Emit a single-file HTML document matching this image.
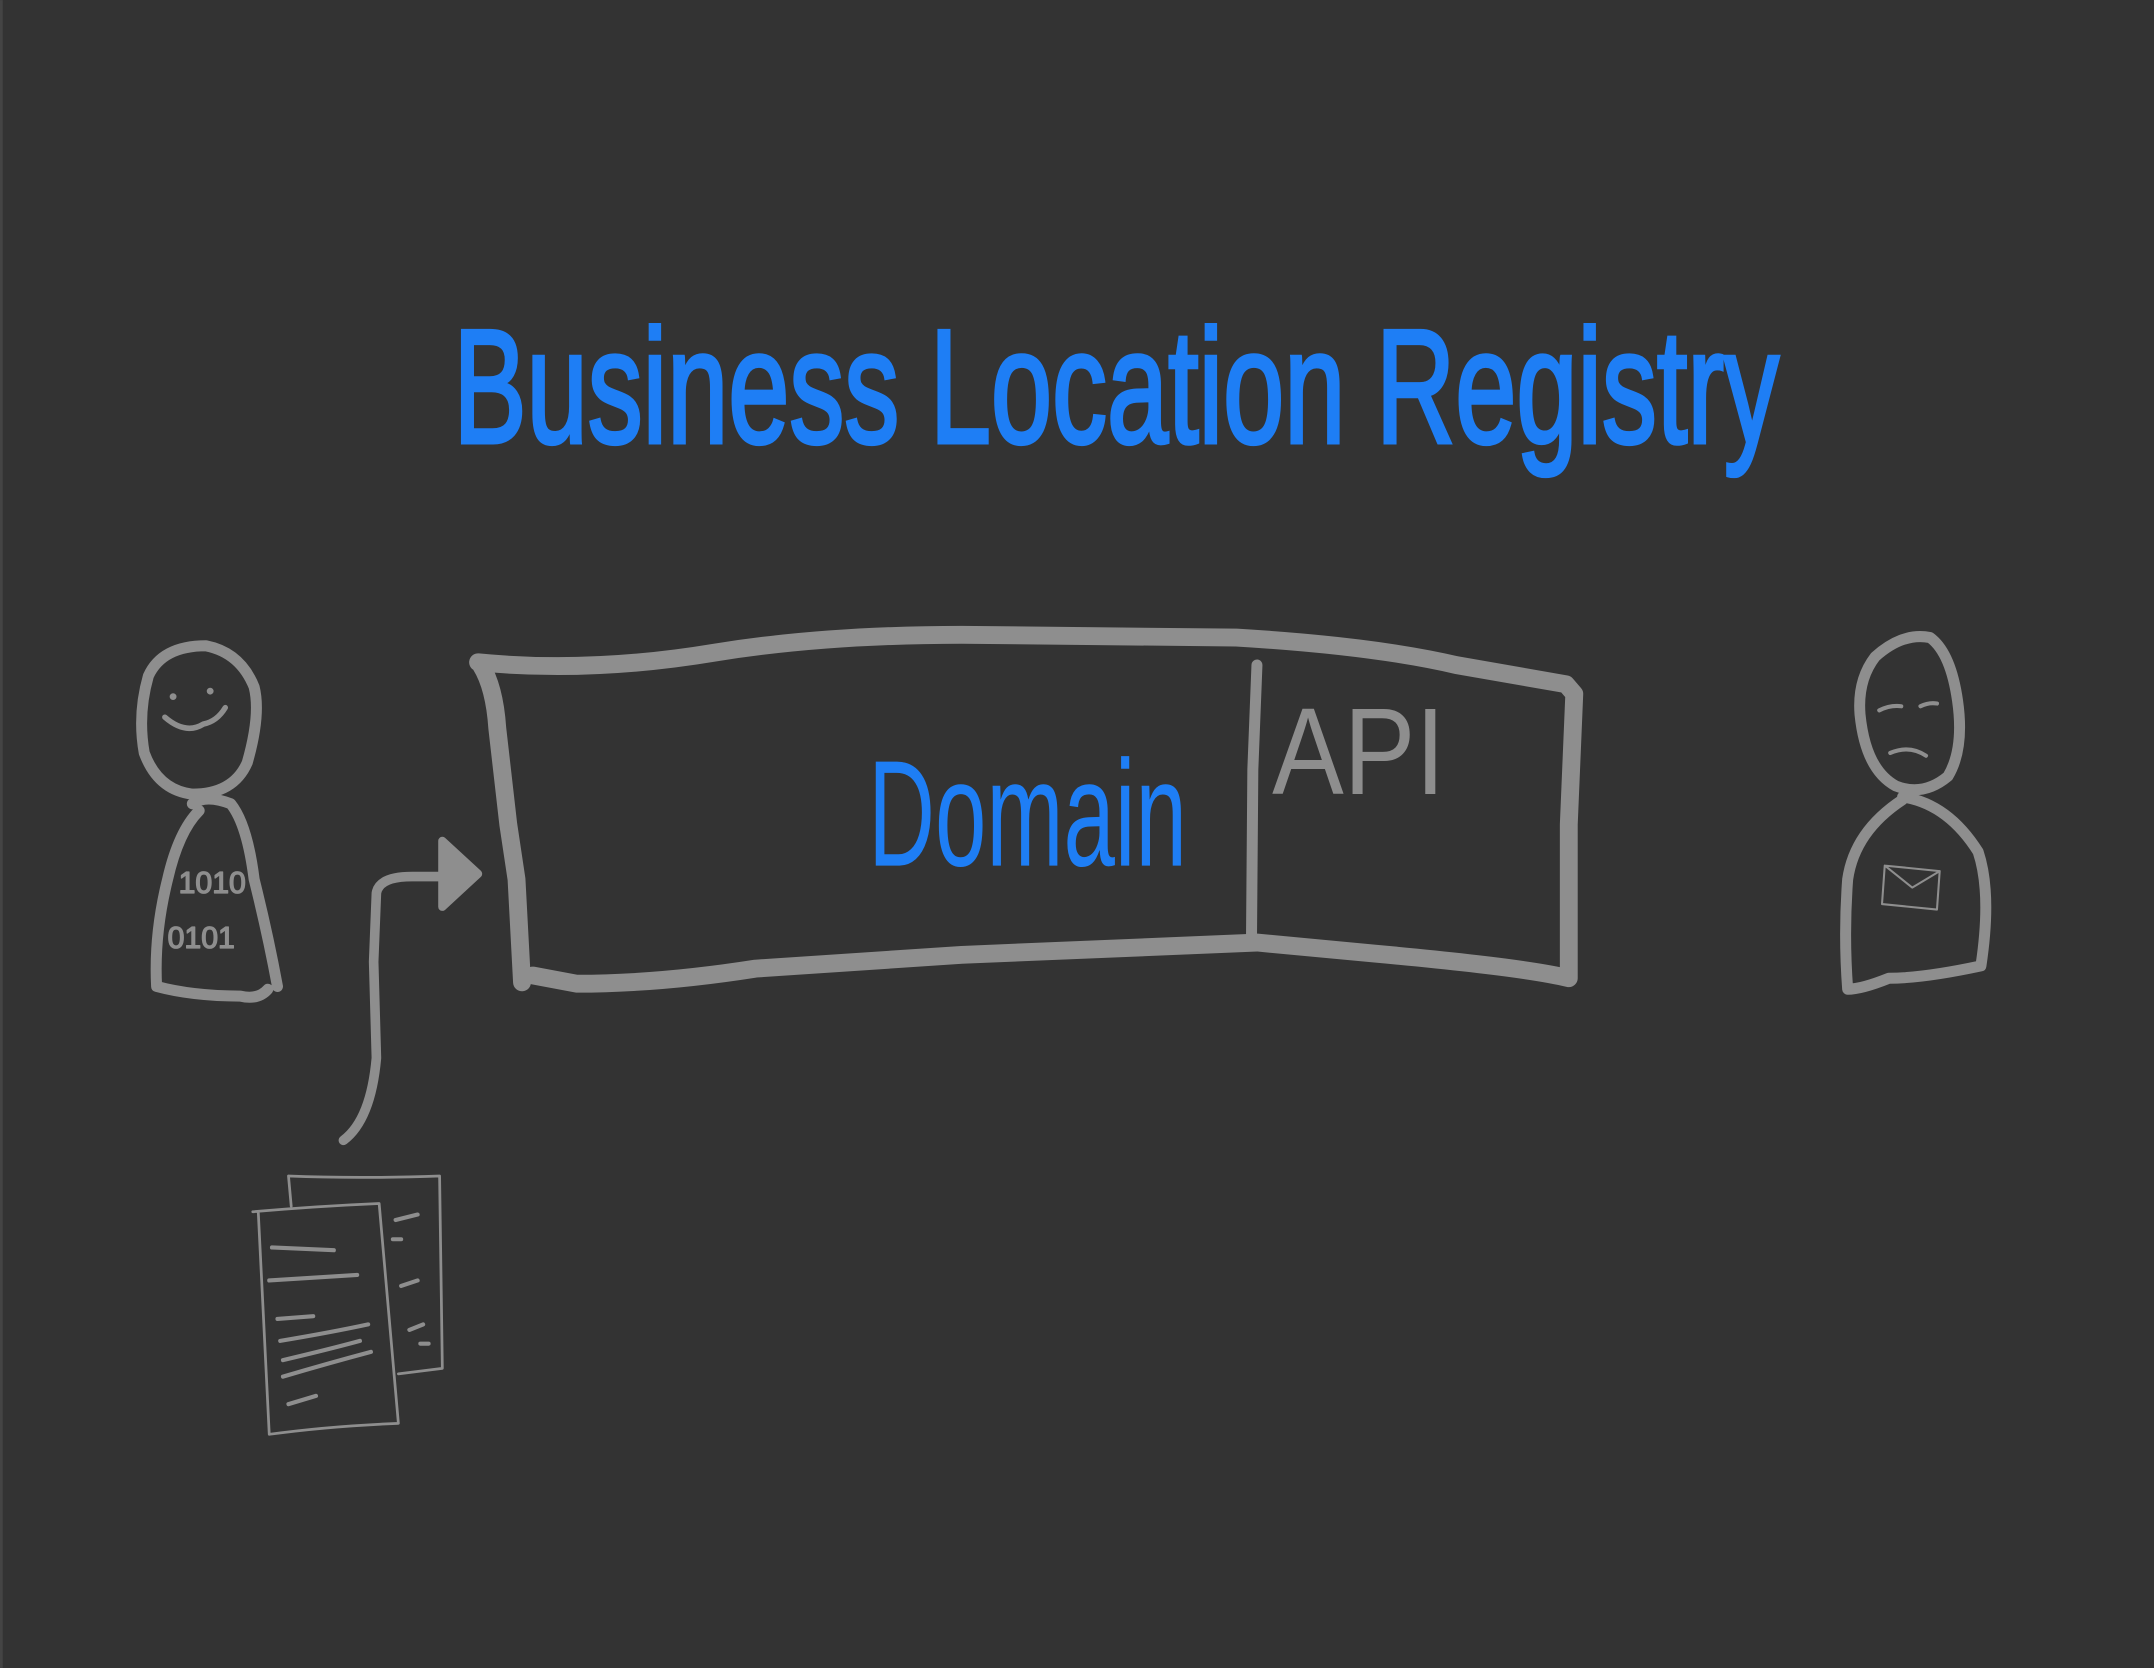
<!DOCTYPE html>
<html><head><meta charset="utf-8"><style>
html,body{margin:0;padding:0;background:#333;}
svg{display:block;}
</style></head><body>
<svg width="2154" height="1668" viewBox="0 0 1568 1214" xmlns="http://www.w3.org/2000/svg">
<rect width="1568" height="1214" fill="#333333"/>
<line x1="1" y1="0" x2="1" y2="1214" stroke="#444" stroke-width="2"/>
<!-- Title -->
<text x="330" y="322" font-family="Liberation Sans, sans-serif" font-size="118" fill="#1e7ef5" stroke="#1e7ef5" stroke-width="3" textLength="965" lengthAdjust="spacingAndGlyphs">Business Location Registry</text>
<!-- Main box -->
<g fill="none" stroke="#8e8e8e" stroke-linecap="round" stroke-linejoin="round">
<path d="M350 484 Q360 500 362 530 L370 600 L376 640 L380 715 M348 482 Q430 490 520 475 Q600 462 700 462 L900 464 Q1000 470 1060 484 L1140 498 L1146 505 L1142 600 L1142 712 Q1110 704 1000 694 L915 686 Q820 690 700 695 L550 705 Q480 716 420 716 L388 710" stroke-width="13"/>
<path d="M915 484 L912 560 L911 686" stroke-width="8"/>
<!-- arrow -->
<path d="M250 830 Q270 815 274 770 L272 700 L274 650 Q276 638 300 638 L322 638" stroke-width="7"/>
<path d="M322 612 L348 636 L322 660 Z" fill="#8e8e8e" stroke-width="6"/>
<!-- left person -->
<path d="M108 492 Q118 470 150 470 Q175 475 185 500 Q190 520 180 555 Q170 578 140 578 Q115 575 105 548 Q100 520 108 492 Z" stroke-width="8"/>
<path d="M120 522 Q135 535 148 527 Q158 525 164 515" stroke-width="4"/>
<circle cx="126" cy="507" r="1.5" fill="#8e8e8e" stroke-width="2"/>
<circle cx="153" cy="503" r="1.5" fill="#8e8e8e" stroke-width="2"/>
<path d="M140 585 Q150 578 168 585 Q180 600 185 640 Q195 680 202 718 M145 590 Q130 605 122 640 Q112 680 114 718 Q140 725 175 725 Q188 728 195 720" stroke-width="8"/>
<text x="130" y="650" font-family="Liberation Sans, sans-serif" font-size="22" fill="#8e8e8e">1010</text>
<text x="122" y="690" font-family="Liberation Sans, sans-serif" font-size="22" fill="#8e8e8e">0101</text>
<!-- right person -->
<path d="M1365 478 Q1385 460 1405 464 Q1420 475 1425 510 Q1430 545 1418 565 Q1400 580 1380 572 Q1358 560 1354 520 Q1352 495 1365 478 Z" stroke-width="8"/>
<path d="M1368 517 Q1376 513 1384 514 M1398 514 Q1404 511 1410 512 M1376 548 Q1390 542 1402 550" stroke-width="3"/>
<path d="M1385 580 Q1418 585 1440 620 Q1450 650 1442 703 Q1400 712 1375 712 Q1355 720 1345 720 Q1342 680 1345 640 Q1350 605 1385 582" stroke-width="8"/>
<path d="M1372 630 L1412 634 L1410 662 L1370 658 Z M1372 630 L1392 646 L1412 634" stroke-width="1.5"/>
<!-- documents -->
<path d="M210 856 L212 878 M210 856 Q260 858 320 856 L322 996 L290 1000" stroke-width="2"/>
<path d="M184 882 Q230 878 276 876 L290 1036 Q240 1038 196 1044 L188 882" stroke-width="2"/>
<path d="M198 908 L243 910 M196 932 Q230 930 260 928 M202 960 L228 958 M204 976 Q240 970 268 964 M206 990 Q240 982 262 976 M206 1002 Q240 992 270 984 M210 1022 L230 1016 M288 888 L304 884 M286 902 L292 902 M292 936 L304 932 M298 968 L308 964 M306 978 L312 978" stroke-width="3"/>
</g>
<text x="632" y="630" font-family="Liberation Sans, sans-serif" font-size="110" fill="#1e7ef5" textLength="232" lengthAdjust="spacingAndGlyphs">Domain</text>
<text x="926" y="578" font-family="Liberation Sans, sans-serif" font-size="90" fill="#8e8e8e" textLength="126" lengthAdjust="spacingAndGlyphs">API</text>
</svg>
</body></html>
